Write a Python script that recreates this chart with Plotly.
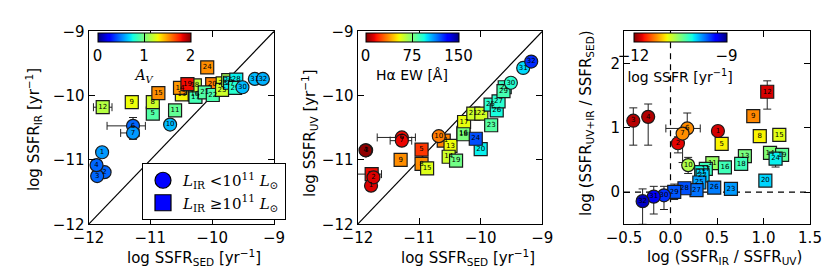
import numpy as np
import plotly.graph_objects as go

# ---------------- data ----------------
ids = list(range(1, 33))
# 1 = L_IR >= 1e11 (square), 0 = circle
lirg = [0, 0, 0, 0, 1, 0, 0, 1, 1, 0, 1, 1, 1, 1, 1, 1,
        1, 1, 1, 1, 1, 1, 1, 1, 1, 1, 1, 1, 1, 0, 0, 0]
ssfr_sed = [-11.78, -11.74, -11.86, -11.87, -10.96, -11.28, -11.28, -10.96,
            -11.30, -10.68, -10.60, -11.77, -10.49, -10.52, -10.87, -10.28,
            -10.27, -10.28, -10.40, -10.00, -10.12, -9.99, -9.83, -10.08,
            -9.84, -9.74, -9.71, -9.61, -9.63, -9.51, -9.31, -9.18]
ssfr_ir = [-10.88, -11.19, -11.25, -11.08, -10.28, -10.47, -10.58, -10.10,
           -10.10, -10.45, -10.23, -10.18, -9.98, -9.88, -9.96, -9.98,
           -10.02, -9.84, -9.82, -9.82, -9.95, -9.99, -9.81, -9.56,
           -9.91, -9.76, -9.80, -9.75, -9.88, -9.87, -9.74, -9.74]
ssfr_uv = [-11.40, -11.27, -10.85, -10.85, -10.84, -10.65, -10.70, -11.06,
           -11.00, -10.63, -10.70, -11.22, -10.78, -10.95, -11.13, -10.58,
           -10.41, -10.60, -11.01, -10.83, -10.28, -10.28, -10.46, -10.67,
           -10.14, -10.23, -10.09, -9.87, -9.93, -9.80, -9.57, -9.47]
a_v = [0.55, 0.45, 0.45, 0.45, 0.9, 0.45, 0.55, 1.2, 1.28, 0.62, 0.94, 1.14,
       1.3, 1.5, 1.52, 1.0, 0.86, 1.16, 1.8, 1.56, 0.9, 0.88, 1.24, 1.52,
       1.2, 1.1, 0.72, 0.72, 0.8, 0.62, 0.62, 0.6]
ha_ew = [12, 12, 4, 2, 22, 15, 14, 36, 36, 33, 34, 15, 54, 60, 57, 75,
         55, 75, 77, 96, 60, 59, 82, 120, 90, 93, 90, 88, 85, 90, 99, 125]
log_ir_uv = [0.51, 0.08, -0.40, -0.24, 0.55, 0.18, 0.13, 0.96, 0.89, 0.19,
             0.45, 1.04, 0.80, 1.07, 1.17, 0.585, 0.38, 0.76, 1.20, 1.02,
             0.33, 0.345, 0.65, 1.13, 0.31, 0.47, 0.28, 0.15, 0.04, -0.07,
             -0.18, -0.30]
log_tot_sed = [0.95, 0.76, 1.11, 1.17, 0.75, 0.99, 0.91, 0.87, 1.18, 0.42,
               0.45, 1.56, 0.56, 0.61, 0.89, 0.385, 0.36, 0.44, 0.58, 0.18,
               0.31, 0.26, 0.05, 0.52, 0.15, 0.07, 0.03, 0.06, 0.005, -0.05,
               -0.07, -0.14]

# error bars (only galaxies that show them)
err1_ids = [6, 7, 12]
err1_xm = [0.42, 0.20, 0.15]
err1_xp = [0.20, 0.10, 0.15]
err1_ym = [0.13, 0.10, 0.0]
err1_yp = [0.13, 0.10, 0.0]

err2_ids = [6, 7, 12]
err2_xm = [0.40, 0.19, 0.25]
err2_xp = [0.22, 0.16, 0.16]

err3_ids = [2, 3, 4, 6, 7, 10, 12, 24, 29, 30, 31, 32]
err3_xm = [0, 0, 0, 0.23, 0, 0.04, 0, 0, 0, 0, 0, 0]
err3_xp = [0, 0, 0, 0.14, 0, 0.04, 0, 0, 0, 0, 0, 0]
err3_ym = [0.15, 0.38, 0.44, 0.0, 0.45, 0.13, 0.27, 0.13, 0.12, 0.22, 0.27, 0.36]
err3_yp = [0.10, 0.20, 0.20, 0.24, 0.0, 0.12, 0.17, 0.0, 0.12, 0.14, 0.16, 0.19]

# ---------------- style helpers ----------------
W, H = 830, 277


def px(x):
    return x / W


def py(y):
    return 1 - y / H


def mpl_jet(n=65):
    ts = np.linspace(0, 1, n)
    r = np.interp(ts, [0, 0.35, 0.66, 0.89, 1], [0, 0, 1, 1, 0.5])
    g = np.interp(ts, [0, 0.125, 0.375, 0.64, 0.91, 1], [0, 0, 1, 1, 0, 0])
    b = np.interp(ts, [0, 0.11, 0.34, 0.65, 1], [0.5, 1, 1, 0, 0])
    return [[float(t), 'rgb(%d,%d,%d)' % (round(255 * R), round(255 * G), round(255 * B))]
            for t, R, G, B in zip(ts, r, g, b)]


jet = mpl_jet()
jet_r = [[round(1 - t, 6), c] for t, c in reversed(jet)]

FONT = 'DejaVu Sans'
fig = go.Figure()


def sel(vals, flag):
    return [v for v, s in zip(vals, lirg) if s == flag]


def idx(i):
    return ids.index(i)


def add_points(xv, yv, cv, xa, ya, cax):
    for flag, sym in [(1, 'square'), (0, 'circle')]:
        fig.add_trace(go.Scatter(
            x=sel(xv, flag), y=sel(yv, flag), xaxis=xa, yaxis=ya,
            mode='markers+text', text=[str(i) for i in sel(ids, flag)],
            textposition='middle center',
            textfont=dict(size=7, color='black', family=FONT),
            marker=dict(symbol=sym, size=13, color=sel(cv, flag), coloraxis=cax,
                        line=dict(color='#1a1a1a', width=1.2)),
            showlegend=False, hoverinfo='skip', cliponaxis=False))


def add_err(eids, xv, yv, xa, ya, xm=None, xp=None, ym=None, yp=None):
    kw = {}
    if xm is not None:
        kw['error_x'] = dict(type='data', symmetric=False, array=xp, arrayminus=xm,
                             color='#222', thickness=1, width=4)
    if ym is not None:
        kw['error_y'] = dict(type='data', symmetric=False, array=yp, arrayminus=ym,
                             color='#222', thickness=1, width=4)
    fig.add_trace(go.Scatter(
        x=[xv[idx(i)] for i in eids], y=[yv[idx(i)] for i in eids],
        xaxis=xa, yaxis=ya, mode='markers',
        marker=dict(size=1, color='rgba(0,0,0,0)'),
        showlegend=False, hoverinfo='skip', **kw))


# panel 1
add_err(err1_ids, ssfr_sed, ssfr_ir, 'x', 'y', err1_xm, err1_xp, err1_ym, err1_yp)
add_points(ssfr_sed, ssfr_ir, a_v, 'x', 'y', 'coloraxis')
# panel 2
add_err(err2_ids, ssfr_sed, ssfr_uv, 'x2', 'y2', err2_xm, err2_xp)
add_points(ssfr_sed, ssfr_uv, ha_ew, 'x2', 'y2', 'coloraxis2')
# panel 3
add_err(err3_ids, log_ir_uv, log_tot_sed, 'x3', 'y3', err3_xm, err3_xp, err3_ym, err3_yp)
add_points(log_ir_uv, log_tot_sed, ssfr_sed, 'x3', 'y3', 'coloraxis3')

# legend entries
fig.add_trace(go.Scatter(x=[None], y=[None], mode='markers',
                         marker=dict(symbol='circle', size=16, color='blue',
                                     line=dict(color='black', width=1.2)),
                         name='<i>L</i><sub>IR</sub> &lt;10<sup>11</sup> <i>L</i><sub>⊙</sub>'))
fig.add_trace(go.Scatter(x=[None], y=[None], mode='markers',
                         marker=dict(symbol='square', size=16, color='blue',
                                     line=dict(color='black', width=1.2)),
                         name='<i>L</i><sub>IR</sub> ≥10<sup>11</sup> <i>L</i><sub>⊙</sub>'))

ax = dict(showline=True, linecolor='black', linewidth=1, mirror='ticks',
          ticks='inside', ticklen=6, tickcolor='black', showgrid=False,
          zeroline=False, tickfont=dict(size=15, family=FONT, color='black'))
dom_y = [py(216.3), py(23.3)]


def cbar(xc, tickvals, title, tfont):
    return dict(orientation='h', x=px(xc), xanchor='center', y=py(25.5), yanchor='top',
                len=93, lenmode='pixels', thickness=9, thicknessmode='pixels',
                tickvals=tickvals, ticks='inside', ticklen=9, tickcolor='black',
                tickfont=dict(size=15, family=FONT, color='black'),
                outlinewidth=1, outlinecolor='black', xpad=0, ypad=0,
                title=dict(text=title, side='bottom', font=dict(size=14, family=tfont)))


fig.update_layout(
    width=W, height=H, margin=dict(l=0, r=0, t=0, b=0, autoexpand=False),
    paper_bgcolor='white', plot_bgcolor='white',
    font=dict(family=FONT, size=14, color='black'),
    xaxis=dict(domain=[px(80.5), px(266)], range=[-12, -9], tickvals=[-12, -11, -10, -9],
               anchor='y', **ax),
    yaxis=dict(domain=dom_y, range=[-12, -9], tickvals=[-12, -11, -10, -9], anchor='x', **ax),
    xaxis2=dict(domain=[px(349.5), px(534.3)], range=[-12, -9], tickvals=[-12, -11, -10, -9],
                anchor='y2', **ax),
    yaxis2=dict(domain=dom_y, range=[-12, -9], tickvals=[-12, -11, -10, -9], anchor='x2', **ax),
    xaxis3=dict(domain=[px(616), px(802)], range=[-0.5, 1.5],
                tickvals=[-0.5, 0, 0.5, 1, 1.5], tickformat='.1f', anchor='y3', **ax),
    yaxis3=dict(domain=dom_y, range=[-0.5, 2.5], tickvals=[0, 1, 2], anchor='x3', **ax),
    coloraxis=dict(colorscale=jet, cmin=0, cmax=2,
                   colorbar=cbar(136, [0, 1, 2], '<i>A<sub>V</sub></i>', 'DejaVu Serif')),
    coloraxis2=dict(colorscale=jet_r, cmin=0, cmax=150,
                    colorbar=cbar(404, [0, 75, 150], 'Hα EW [Å]', FONT)),
    coloraxis3=dict(colorscale=jet_r, cmin=-12, cmax=-9,
                    colorbar=cbar(672, [-12, -9], 'log SSFR [yr<sup>−1</sup>]', FONT)),
    legend=dict(x=px(134), y=py(155), xanchor='left', yanchor='top',
                bordercolor='black', borderwidth=1, bgcolor='white',
                font=dict(family='DejaVu Serif', size=15, color='black'),
                tracegroupgap=0),
)

# reference lines
line_kw = dict(color='black', width=1.2)
fig.add_shape(type='line', xref='x', yref='y', x0=-12, y0=-12, x1=-9, y1=-9, line=line_kw, layer='below')
fig.add_shape(type='line', xref='x2', yref='y2', x0=-12, y0=-12, x1=-9, y1=-9, line=line_kw, layer='below')
dash_kw = dict(color='black', width=1.2, dash='6px,5px')
fig.add_shape(type='line', xref='x3', yref='y3', x0=-0.5, y0=0, x1=1.5, y1=0, line=dash_kw, layer='below')
fig.add_shape(type='line', xref='x3', yref='y3', x0=0, y0=-0.5, x1=0, y1=2.5, line=dash_kw, layer='below')

# axis titles
def title(text, x, y, angle=0):
    fig.add_annotation(text=text, x=px(x), y=py(y), xref='paper', yref='paper',
                       showarrow=False, textangle=angle, xanchor='center', yanchor='middle',
                       font=dict(size=15, family=FONT, color='black'))


title('log SSFR<sub>SED</sub> [yr<sup>−1</sup>]', 186, 250)
title('log SSFR<sub>SED</sub> [yr<sup>−1</sup>]', 460, 250)
title('log (SSFR<sub>IR</sub> / SSFR<sub>UV</sub>)', 716, 250)
title('log SSFR<sub>IR</sub> [yr<sup>−1</sup>]', 25, 122, -90)
title('log SSFR<sub>UV</sub> [yr<sup>−1</sup>]', 302, 125, -90)
title('log (SSFR<sub>UV+IR</sub> / SSFR<sub>SED</sub>)', 578, 115, -90)

fig.write_html('out.html')
